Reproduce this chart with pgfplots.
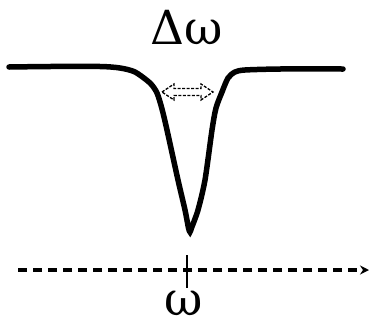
\documentclass[border=0pt]{standalone}
\usepackage{pgfplots}
\pgfplotsset{compat=1.18}
\usepackage{fontspec}
\setmainfont{DejaVu Serif}
\usetikzlibrary{arrows.meta}

\begin{document}
\begin{tikzpicture}
\begin{axis}[
  scale only axis, width=371pt, height=327pt,
  xmin=0, xmax=371, ymin=0, ymax=327, y dir=reverse,
  hide axis, clip=false,
]
% absorption dip
\addplot[black, line width=5.5pt, smooth, tension=0.45, line cap=round] coordinates {
  (9,67) (50,66.5) (100,66.5) (120,68) (135,72) (150,83) (157,93)
  (162,109) (167,130) (178,180) (185,210) (188.5,228) (190,232)
  (191.5,228) (198,210) (205,180) (212,130) (216,108) (222,92)
  (228,78) (235,72) (245,70) (280,69) (343,69)
};
% linewidth arrow, drawn as a hollow dashed outline
\addplot[black, line width=1.3pt, dash pattern=on 3pt off 1.5pt, line join=miter] coordinates {
  (162,92) (174,84) (174,88.5) (201,88.5) (201,84) (213,92)
  (201,100) (201,95.5) (174,95.5) (174,100) (162,92)
};
% frequency axis
\addplot[black, line width=3.2pt, dash pattern=on 9pt off 6pt, -{Stealth[length=9pt,width=9pt]}]
  coordinates {(18,270) (369,270)};
\addplot[black, line width=2.2pt] coordinates {(187,255) (187,288)};
\node[anchor=base, inner sep=0pt, font=\fontsize{47}{50}\selectfont] at (axis cs:187,44) {Δω};
\node[anchor=base, inner sep=0pt, font=\fontsize{47}{50}\selectfont] at (axis cs:184,315) {ω};
\end{axis}
\pgfresetboundingbox
\path (0,0) rectangle (371pt,327pt);
\end{tikzpicture}
\end{document}
